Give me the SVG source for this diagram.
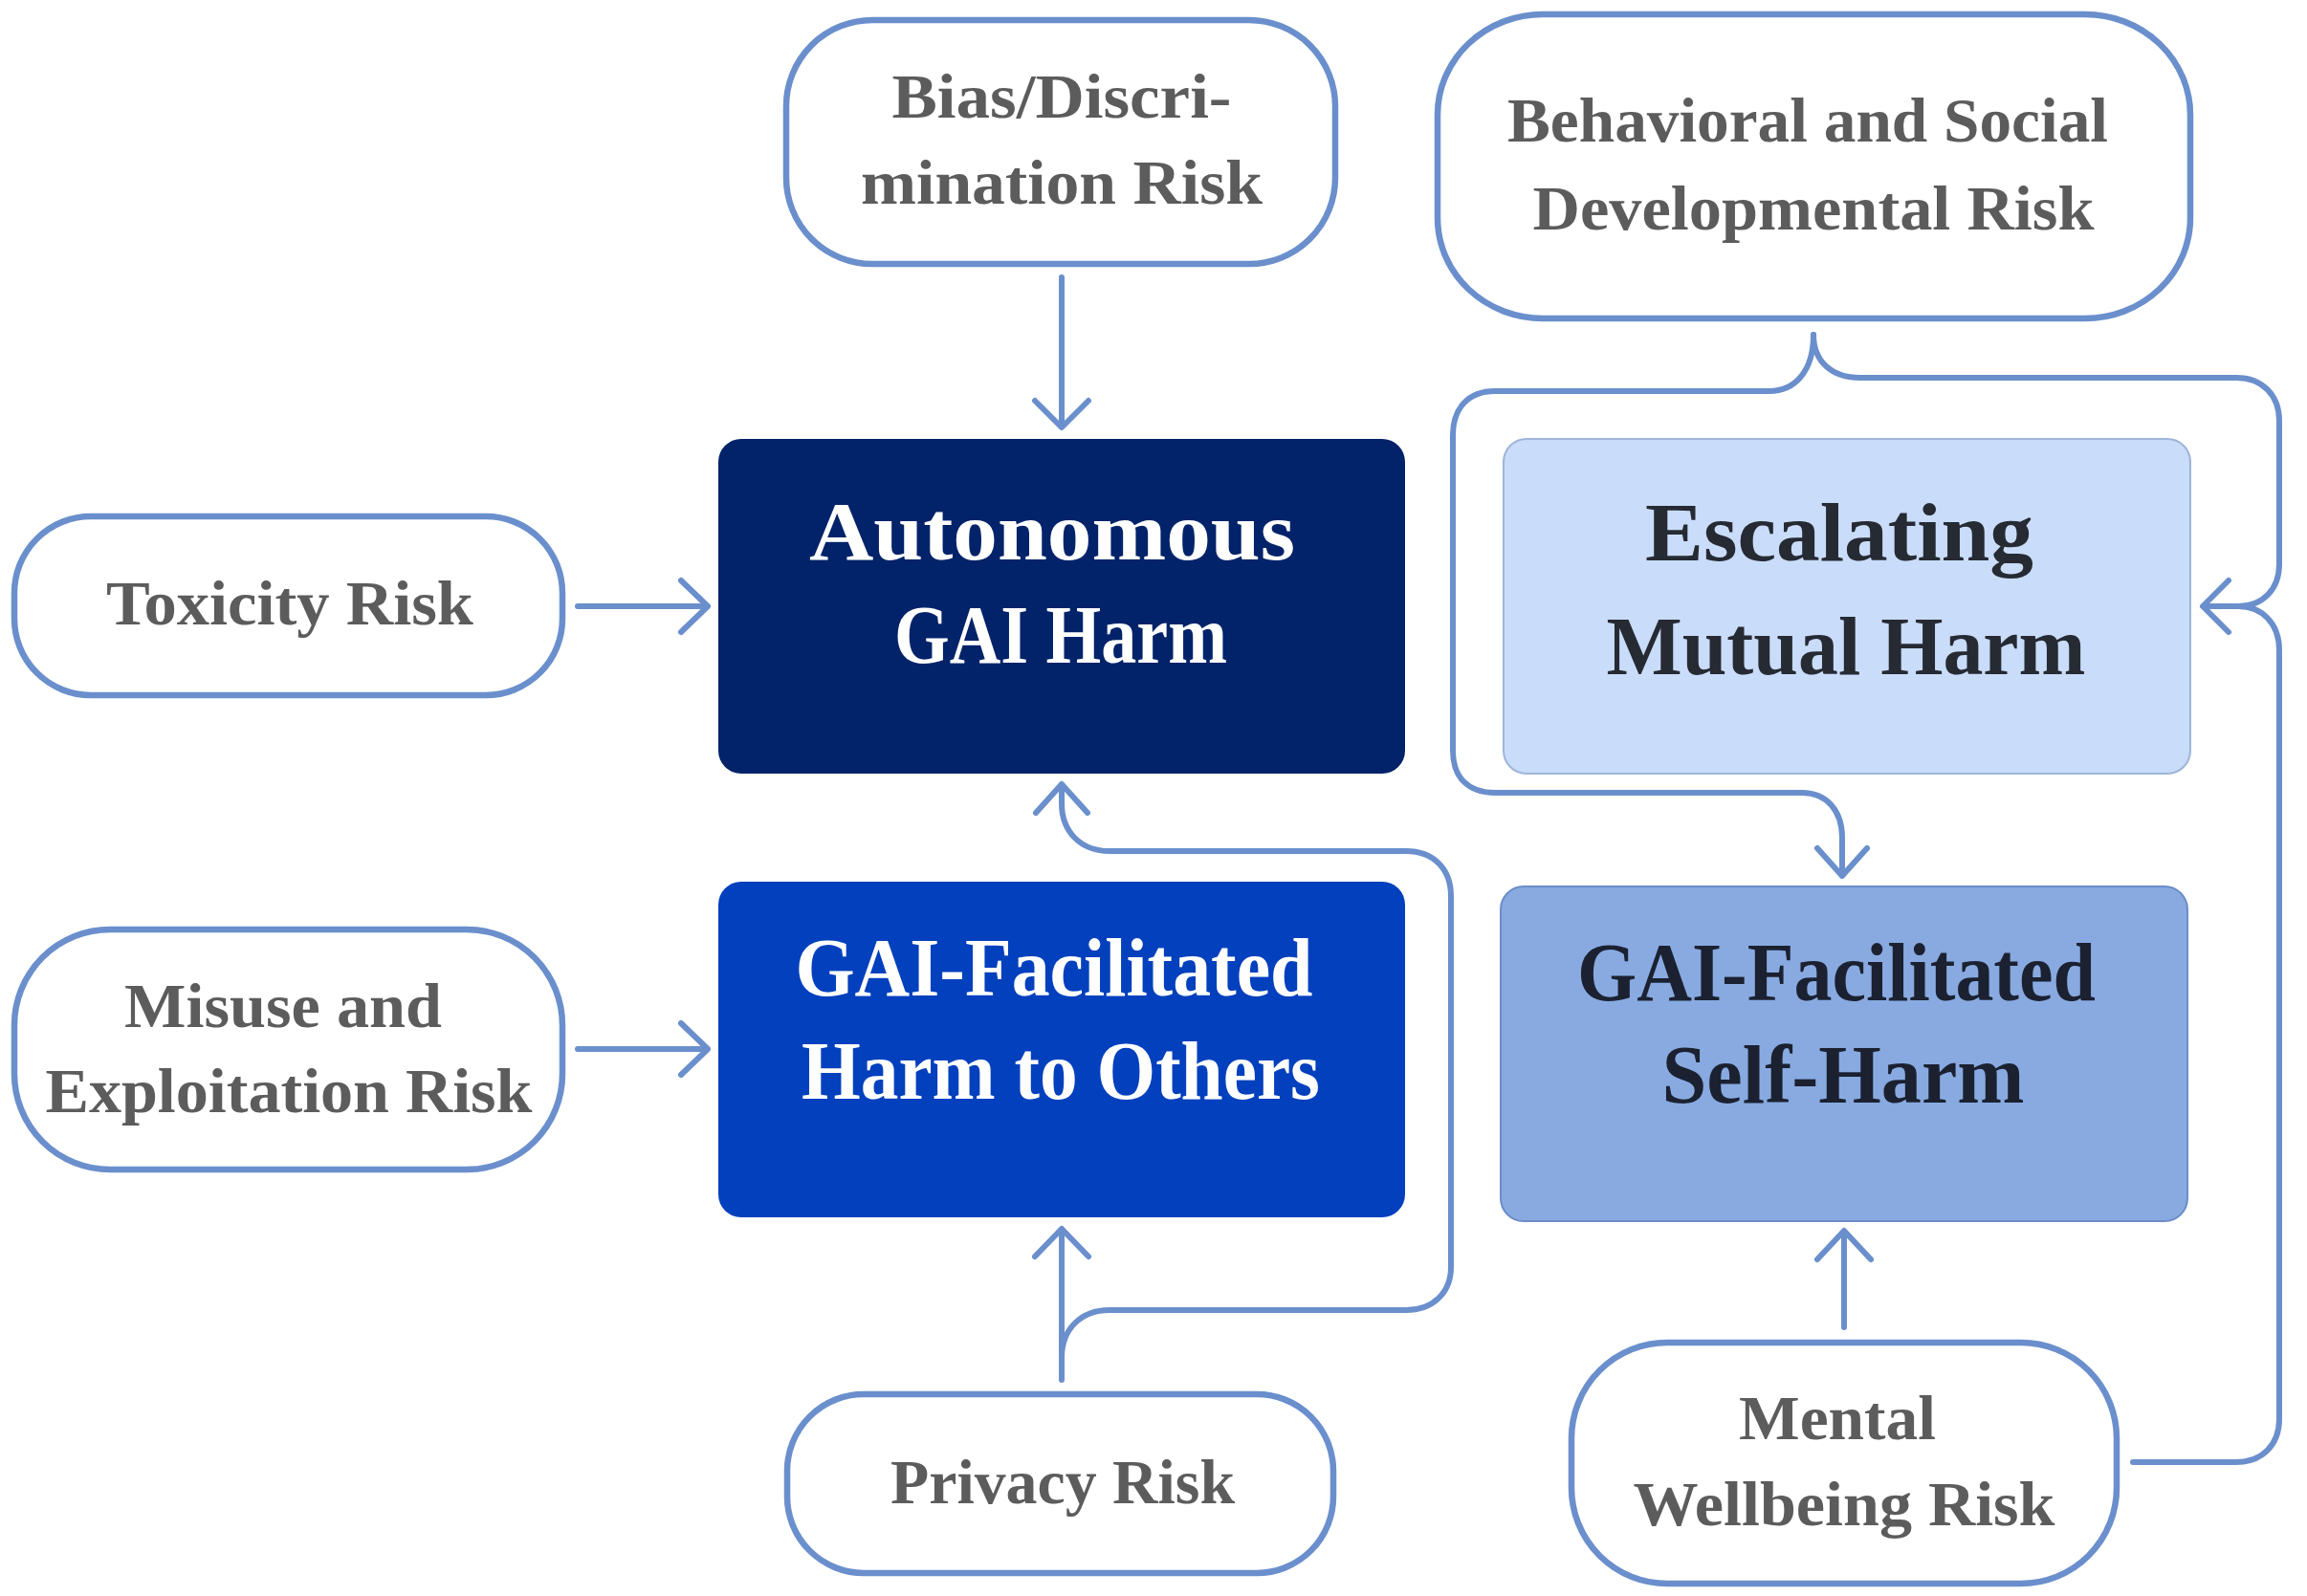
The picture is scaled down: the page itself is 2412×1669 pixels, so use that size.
<svg xmlns="http://www.w3.org/2000/svg" width="2412" height="1669" viewBox="0 0 2412 1669">
<style>
.risk{fill:#fff;stroke:#6A8FCC;stroke-width:6.5}
.rt{font-family:"Liberation Serif","Times New Roman",serif;font-weight:bold;font-size:66px;fill:#5C5C5C;text-anchor:middle}
.mt{font-family:"Liberation Serif","Times New Roman",serif;font-weight:bold;font-size:86px;text-anchor:middle}
.w{fill:#fff}
.conn path,.conn polyline{fill:none;stroke:#6A8FCC;stroke-width:6;stroke-linecap:round;stroke-linejoin:round}
</style>
<rect width="2412" height="1669" fill="#fff"/>
<g class="conn" id="connectors">
  <!-- Bias -> Autonomous -->
  <path d="M1110,290 V446"/>
  <polyline points="1082,419 1110,447 1138,419"/>
  <!-- Toxicity -> Autonomous -->
  <path d="M604,634 H739"/>
  <polyline points="712,607 740,634 712,661"/>
  <!-- Misuse -> Harm to Others -->
  <path d="M604,1097 H739"/>
  <polyline points="712,1070 740,1097 712,1124"/>
  <!-- Privacy -> Harm to Others -->
  <path d="M1110,1443 V1286"/>
  <polyline points="1082,1314 1110,1285 1138,1314"/>
  <!-- Privacy -> Autonomous -->
  <path d="M1110,1420 C1110,1390 1130,1370 1160,1370 H1470 C1498,1370 1517,1352 1517,1325 V937 C1517,908 1498,890 1470,890 H1160 C1130,890 1110,870 1110,840 V821"/>
  <polyline points="1083,850 1110,820 1137,850"/>
  <!-- Behavioral -> Self-Harm (via left loop) -->
  <path d="M1896,350 C1896,390 1875,409 1850,409 H1563 C1535,409 1519,427 1519,455 V785 C1519,813 1535,829 1563,829 H1884 C1910,829 1926,848 1926,876 V915"/>
  <polyline points="1900,887 1926,916 1952,887"/>
  <!-- Behavioral -> Escalating (right) -->
  <path d="M1896,350 C1896,378 1915,395 1945,395 H2338 C2365,395 2383,413 2383,440 V590 C2383,617 2365,634 2340,634 H2304"/>
  <!-- Mental -> Escalating (right) -->
  <path d="M2230,1529 H2338 C2365,1529 2383,1511 2383,1484 V680 C2383,652 2365,634 2340,634"/>
  <polyline points="2330,607 2303,634 2330,661"/>
  <!-- Mental -> Self-Harm -->
  <path d="M1928,1388 V1288"/>
  <polyline points="1900,1317 1928,1287 1956,1317"/>
</g>
<g id="bias">
  <rect class="risk" x="822" y="21" width="574" height="255" rx="90" ry="90"/>
  <text class="rt" x="1110" y="123" textLength="355" lengthAdjust="spacingAndGlyphs">Bias/Discri-</text>
  <text class="rt" x="1110" y="213" textLength="420" lengthAdjust="spacingAndGlyphs">mination Risk</text>
</g>
<g id="behavioral">
  <rect class="risk" x="1503" y="15" width="787" height="318" rx="110" ry="105"/>
  <text class="rt" x="1890" y="148" textLength="628" lengthAdjust="spacingAndGlyphs">Behavioral and Social</text>
  <text class="rt" x="1896" y="240" textLength="587" lengthAdjust="spacingAndGlyphs">Developmental Risk</text>
</g>
<g id="toxicity">
  <rect class="risk" x="15" y="540" width="573" height="187" rx="80" ry="80"/>
  <text class="rt" x="303" y="653" textLength="384" lengthAdjust="spacingAndGlyphs">Toxicity Risk</text>
</g>
<g id="misuse">
  <rect class="risk" x="15" y="972" width="573" height="251" rx="100" ry="100"/>
  <text class="rt" x="296" y="1074" textLength="332" lengthAdjust="spacingAndGlyphs">Misuse and</text>
  <text class="rt" x="302" y="1163" textLength="509" lengthAdjust="spacingAndGlyphs">Exploitation Risk</text>
</g>
<g id="privacy">
  <rect class="risk" x="823" y="1458" width="571" height="187" rx="80" ry="80"/>
  <text class="rt" x="1111" y="1572" textLength="360" lengthAdjust="spacingAndGlyphs">Privacy Risk</text>
</g>
<g id="mental">
  <rect class="risk" x="1643" y="1404" width="570" height="252" rx="100" ry="100"/>
  <text class="rt" x="1921" y="1505" textLength="206" lengthAdjust="spacingAndGlyphs">Mental</text>
  <text class="rt" x="1928" y="1595" textLength="441" lengthAdjust="spacingAndGlyphs">Wellbeing Risk</text>
</g>
<g id="autonomous">
  <rect x="751" y="459" width="718" height="350" rx="24" ry="24" fill="#022369"/>
  <text class="mt w" x="1100" y="585" textLength="508" lengthAdjust="spacingAndGlyphs">Autonomous</text>
  <text class="mt w" x="1109" y="693" textLength="348" lengthAdjust="spacingAndGlyphs">GAI Harm</text>
</g>
<g id="harm-to-others">
  <rect x="751" y="922" width="718" height="351" rx="24" ry="24" fill="#0340BD"/>
  <text class="mt w" x="1102" y="1041" textLength="541" lengthAdjust="spacingAndGlyphs">GAI-Facilitated</text>
  <text class="mt w" x="1109" y="1149" textLength="542" lengthAdjust="spacingAndGlyphs">Harm to Others</text>
</g>
<g id="escalating">
  <rect x="1572" y="459" width="718" height="350" rx="24" ry="24" fill="#C9DCF9" stroke="#9EB5DA" stroke-width="2"/>
  <text class="mt" fill="#262A33" x="1923" y="586" textLength="406" lengthAdjust="spacingAndGlyphs">Escalating</text>
  <text class="mt" fill="#262A33" x="1930" y="705" textLength="501" lengthAdjust="spacingAndGlyphs">Mutual Harm</text>
</g>
<g id="self-harm">
  <rect x="1569" y="927" width="718" height="350" rx="24" ry="24" fill="#88AAE1" stroke="#6C8DC9" stroke-width="2"/>
  <text class="mt" fill="#1B2130" x="1920" y="1046" textLength="542" lengthAdjust="spacingAndGlyphs">GAI-Facilitated</text>
  <text class="mt" fill="#1B2130" x="1927" y="1153" textLength="379" lengthAdjust="spacingAndGlyphs">Self-Harm</text>
</g>
</svg>
